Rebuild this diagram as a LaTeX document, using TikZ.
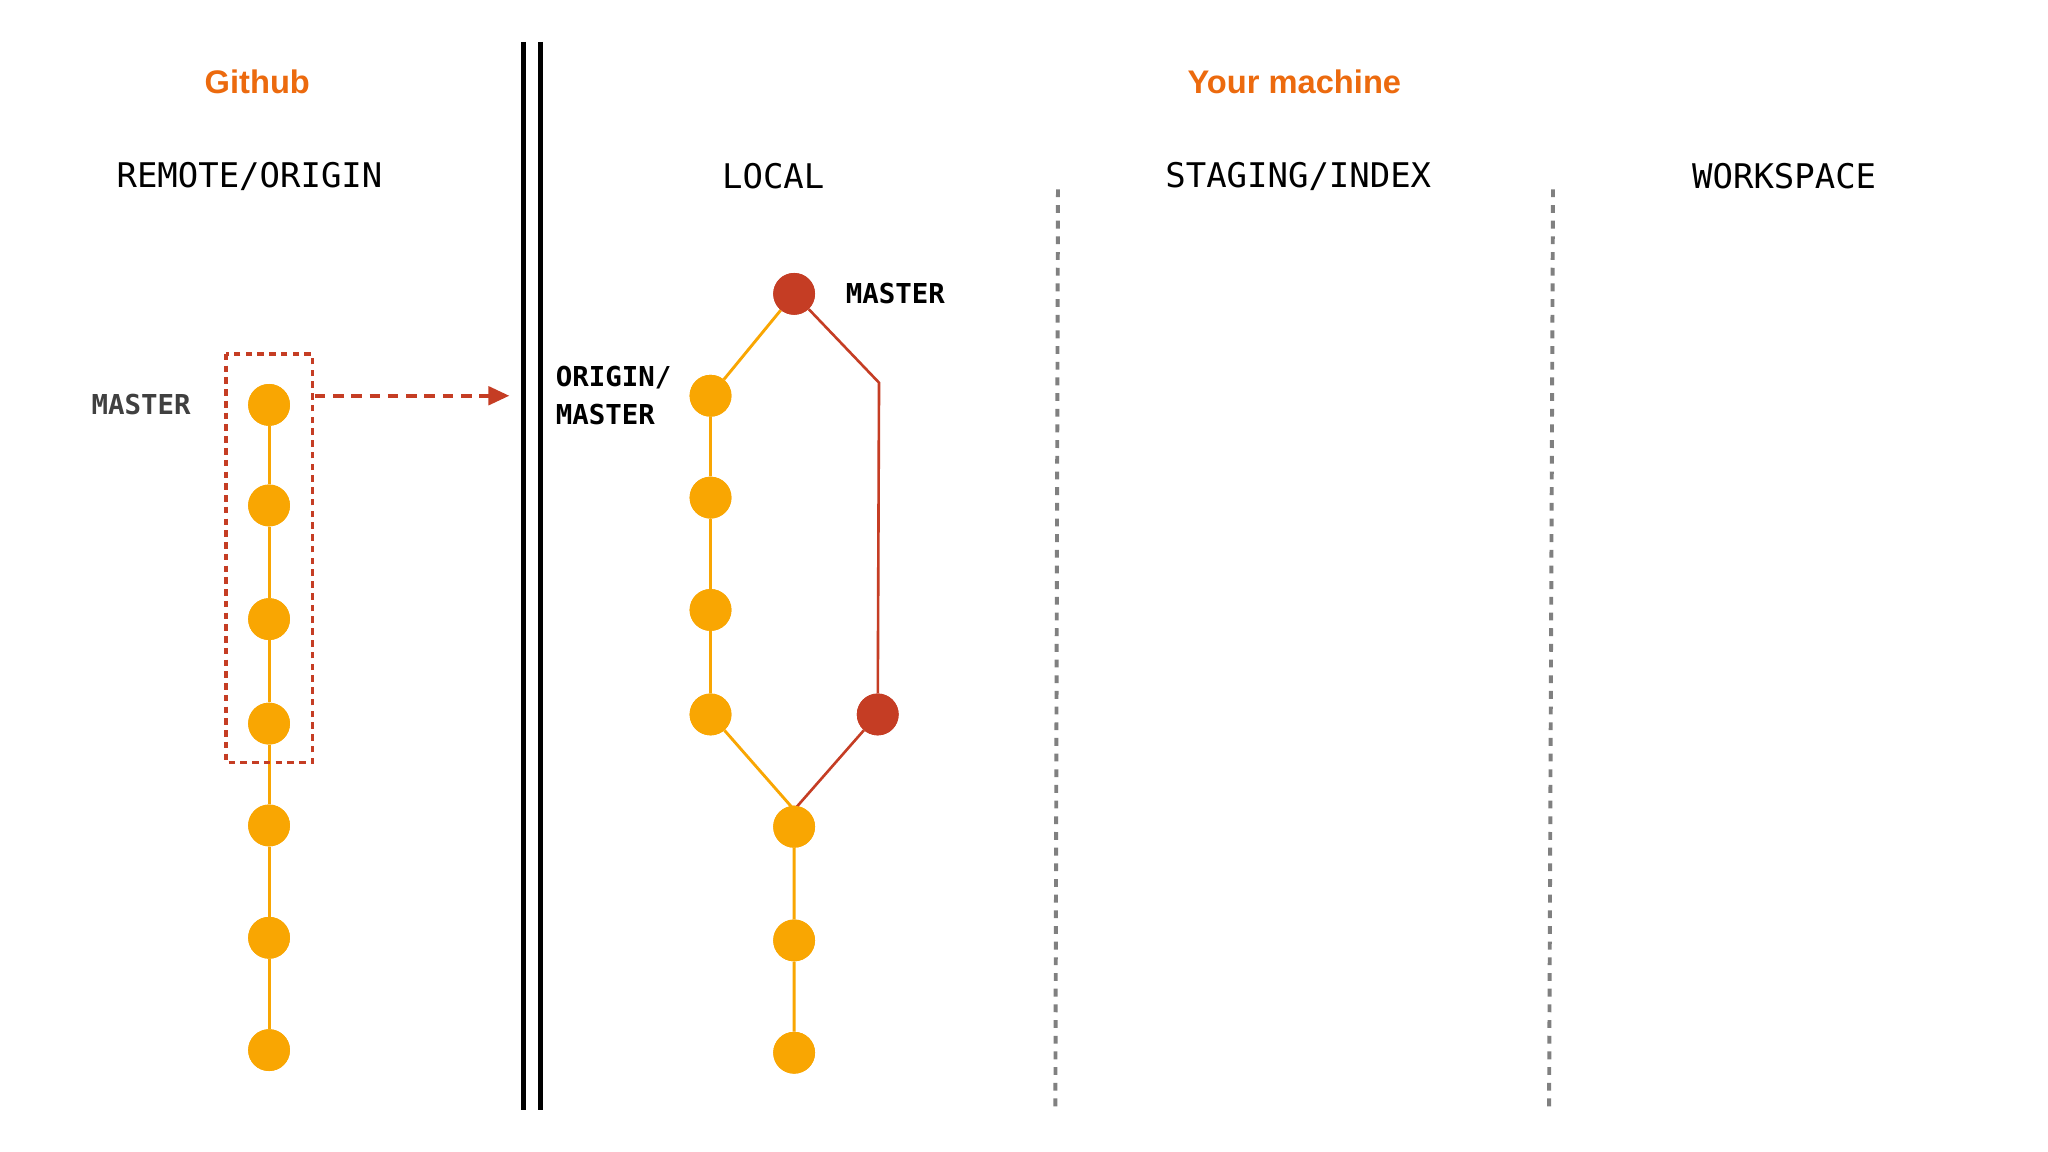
\documentclass[tikz,border=0pt]{standalone}
\usepackage{fontspec}
\setmainfont{Liberation Sans}
\newfontfamily\monof{DejaVu Sans Mono}
\usetikzlibrary{arrows.meta}
\definecolor{cyel}{HTML}{F9A602}
\definecolor{cred}{HTML}{C53D24}
\definecolor{corg}{HTML}{EC6A0E}
\tikzset{
 commit/.style={circle,fill=cyel,minimum size=32,inner sep=0},
 rcommit/.style={circle,fill=cred,minimum size=32,inner sep=0},
 yl/.style={cyel,line width=2.2},
 rl/.style={cred,line width=2},
 hdr/.style={font=\monof\fontsize{26}{30}\selectfont},
 lbl/.style={font=\monof\bfseries\fontsize{21}{29}\selectfont,align=left},
 ttl/.style={font=\bfseries\fontsize{25}{28}\selectfont,text=corg},
 sep/.style={gray,line width=3,dash pattern=on 6pt off 6pt}
}
\begin{document}
\begin{tikzpicture}[x=1pt,y=-1pt]
\useasboundingbox[fill=white] (0,0) rectangle (1568,882);
\node[ttl] (gh) at (197,63) {Github};
\node[ttl] (ym) at (991,63) {Your machine};
\node[hdr] (h1) at (191,135) {REMOTE/ORIGIN};
\node[hdr] (h2) at (592,135) {LOCAL};
\node[hdr] (h3) at (994,135) {STAGING/INDEX};
\node[hdr] (h4) at (1366,135) {WORKSPACE};
\coordinate (d1) at (401,32); \coordinate (d2) at (401,850);
\coordinate (d3) at (414,32); \coordinate (d4) at (414,850);
\draw[line width=3.5] (d1)--(d2) (d3)--(d4);
\coordinate (s1) at (810,145); \coordinate (s2) at (808,850);
\coordinate (s3) at (1189,145); \coordinate (s4) at (1186,850);
\draw[sep] (s1)--(s2) (s3)--(s4);
% remote
\foreach \i/\y in {1/310,2/387,3/474,4/554,5/632,6/718,7/804}
  \node[commit] (r\i) at (206,\y) {};
\draw[yl] (r1)--(r2)--(r3)--(r4)--(r5)--(r6)--(r7);
\foreach \i in {1,...,7} \node[commit] at (r\i) {};
\coordinate (b1) at (173,271); \coordinate (b2) at (239,584);
\draw[cred,line width=2.5,dash pattern=on 5pt off 4pt] (b1) rectangle (b2);
\coordinate (a1) at (241,303); \coordinate (a2) at (390,303);
\draw[cred,line width=3,dash pattern=on 8pt off 6pt,-{Triangle[length=16,width=14]}] (a1)--(a2);
\node[lbl,text=black!75] (rm) at (108,310) {MASTER};
% local
\foreach \i/\y in {1/303,2/381,3/467,4/547}
  \node[commit] (l\i) at (544,\y) {};
\foreach \i/\y in {5/633,6/720,7/806}
  \node[commit] (l\i) at (608,\y) {};
\node[rcommit] (m1) at (608,225) {};
\node[rcommit] (m2) at (672,547) {};
\coordinate (k) at (673,293);
\coordinate (j) at (608,620);
\draw[yl] (m1)--(l1)--(l2)--(l3)--(l4)--(j)--(l5)--(l6)--(l7);
\draw[rl] (m1)--(k)--(m2)--(j);
\foreach \i in {1,...,7} \node[commit] at (l\i) {};
\node[rcommit] at (m1) {};
\node[rcommit] at (m2) {};
\node[lbl,anchor=west] (lm) at (644,225) {MASTER};
\node[lbl,anchor=west] (om) at (422,303) {ORIGIN/\\MASTER};
\end{tikzpicture}
\end{document}
